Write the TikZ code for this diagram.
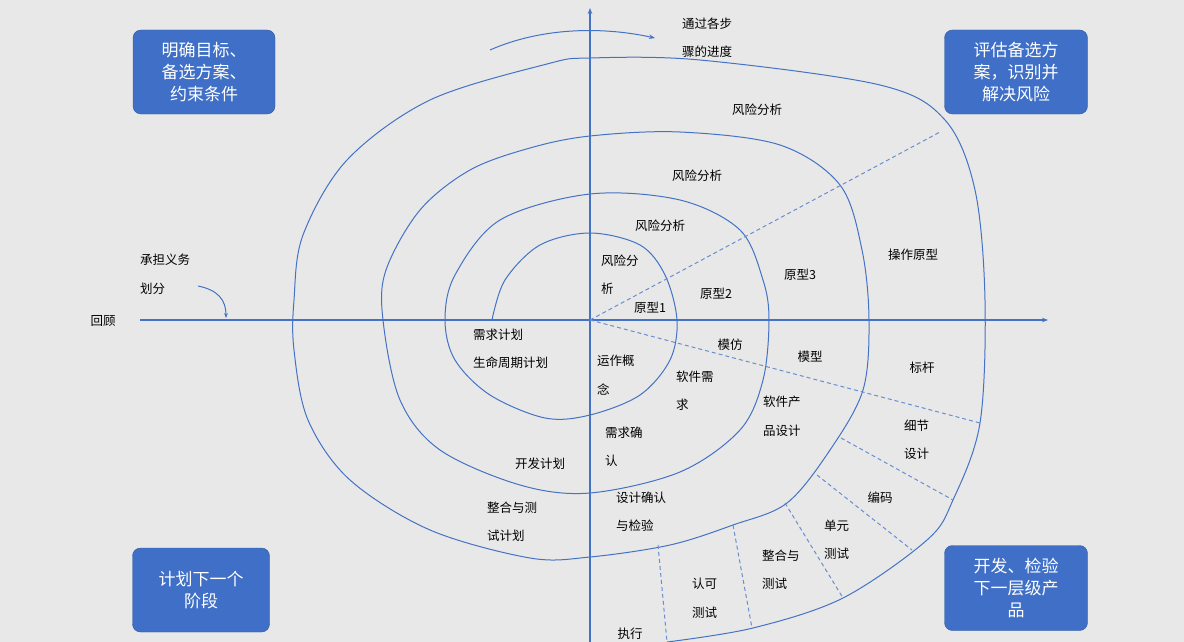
\documentclass[tikz,border=0pt]{standalone}
\usepackage{fontspec}
\setmainfont{Noto Sans CJK SC}
\usetikzlibrary{arrows.meta}
\definecolor{bg}{HTML}{E8E8E8}
\definecolor{ln}{HTML}{4472C4}
\definecolor{bx}{HTML}{3F6FC6}
\begin{document}
\begin{tikzpicture}[x=1pt,y=-1pt,
  lab/.style={font=\fontsize{12.5}{14}\selectfont,text=black,inner sep=0pt},
  labl/.style={lab,anchor=west},
  box/.style={fill=bx,draw=bx!80!black,rounded corners=8pt,text=white,align=center,font=\fontsize{17}{22}\selectfont,inner sep=0pt},
  ax/.style={draw=ln,line width=1.1pt,-{Stealth[length=6pt]}},
  sp/.style={draw=ln,line width=1pt},
  dsh/.style={draw=ln!80,line width=1pt,dash pattern=on 4pt off 3pt}]
\fill[bg] (0,0) rectangle (1184,642);
\useasboundingbox (0,0) rectangle (1184,642);
\coordinate (O) at (590,320);
\coordinate (xl) at (140,320);
\coordinate (xr) at (1048,320);
\coordinate (yb) at (590,642);
\coordinate (yt) at (590,8);
\draw[ax] (xl) -- (xr);
\draw[ax] (yb) -- (yt);
% spiral
\draw[sp] plot[smooth,tension=0.55] coordinates {
(492,320) (505,280) (540,245) (590,233) (640,245) (665,275) (677,320) (670,360) (640,395) (590,415) (545,418) (490,395) (455,360) (445,320) (455,275) (500,220) (590,194) (680,200) (740,230) (763,280) (769,320) (763,380) (740,430) (680,472) (590,493) (520,485) (440,450) (400,400) (383,320) (386,270) (420,210) (470,170) (530,148) (590,136) (680,132) (780,145) (840,185) (862,250) (869,320) (863,390) (830,450) (787,503) (733,525) (670,545) (590,557) (530,558) (430,530) (350,480) (308,420) (294,350) (294,300) (303,235) (347,160) (430,100) (547,64) (590,58) (700,60) (880,85) (945,120) (975,190) (985,300) (980,423) (953,500) (927,540) (843,598) (753,628) (667,642)};
% dashed
\coordinate (d1) at (940,132);
\coordinate (d2) at (980,423);
\draw[dsh] (O) -- (d1);
\draw[dsh] (O) -- (d2);
\draw[dsh] (841,438) coordinate (s1) -- (953,500) coordinate (e1);
\draw[dsh] (817,475) coordinate (s2) -- (912,550) coordinate (e2);
\draw[dsh] (785,503) coordinate (s3) -- (843,598) coordinate (e3);
\draw[dsh] (733,525) coordinate (s4) -- (752,628) coordinate (e4);
\draw[dsh] (658,545) coordinate (s5) -- (667,642) coordinate (e5);
% arrows
\coordinate (ta) at (490,50); \coordinate (tb) at (655,38);
\draw[draw=ln,line width=1pt,-{Stealth[length=6pt]}] (ta) .. controls (540,28) and (600,26) .. (tb);
\coordinate (ha) at (198,286); \coordinate (hb) at (226,318);
\draw[draw=ln,line width=1pt,-{Stealth[length=5pt]}] (ha) .. controls (218,290) and (226,300) .. (hb);
% boxes
\node[box,minimum width=142pt,minimum height=84pt] (b1) at (204,72) {明确目标、\\备选方案、\\约束条件};
\node[box,minimum width=143pt,minimum height=84pt] (b2) at (1016,72) {评估备选方\\案，识别并\\解决风险};
\node[box,minimum width=137pt,minimum height=84pt] (b3) at (201,590) {计划下一个\\阶段};
\node[box,minimum width=143pt,minimum height=85pt] (b4) at (1016,588) {开发、检验\\下一层级产\\品};
% labels
\node[labl] (t1) at (682,24) {通过各步};
\node[labl] (t2) at (682,52) {骤的进度};
\node[lab] (r1) at (757,110) {风险分析};
\node[lab] (r2) at (697,176) {风险分析};
\node[lab] (r3) at (660,226) {风险分析};
\node[labl] (r4) at (601,261) {风险分};
\node[labl] (r5) at (601,289) {析};
\node[lab] (p1) at (650,308) {原型1};
\node[lab] (p2) at (716,294) {原型2};
\node[lab] (p3) at (800,275) {原型3};
\node[lab] (p4) at (913,255) {操作原型};
\node[labl] (c1) at (140,260) {承担义务};
\node[labl] (c2) at (140,289) {划分};
\node[lab] (hg) at (103,321) {回顾};
\node[labl] (q1) at (473,335) {需求计划};
\node[labl] (q2) at (473,363) {生命周期计划};
\node[labl] (y1) at (597,361) {运作概};
\node[labl] (y2) at (597,389) {念};
\node[lab] (m1) at (730,345) {模仿};
\node[labl] (s1t) at (676,377) {软件需};
\node[labl] (s2t) at (676,405) {求};
\node[lab] (m2) at (810,357) {模型};
\node[lab] (bg1) at (922,368) {标杆};
\node[labl] (cp1) at (763,402) {软件产};
\node[labl] (cp2) at (763,431) {品设计};
\node[labl] (xj1) at (904,426) {细节};
\node[labl] (xj2) at (904,454) {设计};
\node[labl] (xq1) at (605,433) {需求确};
\node[labl] (xq2) at (605,461) {认};
\node[lab] (kf) at (540,464) {开发计划};
\node[labl] (zh1) at (487,508) {整合与测};
\node[labl] (zh2) at (487,536) {试计划};
\node[labl] (sj1) at (616,498) {设计确认};
\node[labl] (sj2) at (616,526) {与检验};
\node[lab] (bm) at (880,498) {编码};
\node[labl] (dy1) at (824,526) {单元};
\node[labl] (dy2) at (824,554) {测试};
\node[labl] (zc1) at (762,556) {整合与};
\node[labl] (zc2) at (762,584) {测试};
\node[labl] (rk1) at (692,584) {认可};
\node[labl] (rk2) at (692,613) {测试};
\node[lab] (zx) at (630,634) {执行};
\end{tikzpicture}
\end{document}
